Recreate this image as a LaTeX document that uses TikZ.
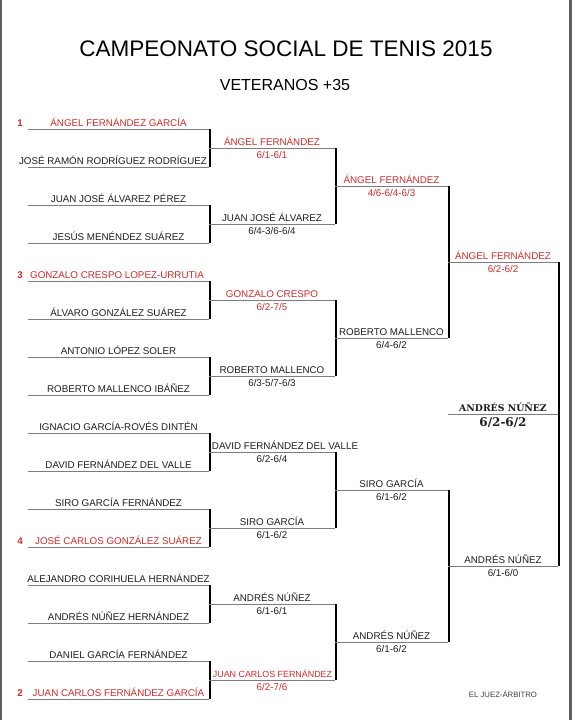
\documentclass[tikz,border=0pt]{standalone}
\usepackage{fontspec}
\setmainfont{Liberation Sans}
\newfontfamily\champfont{DejaVu Serif}
\definecolor{seedred}{RGB}{214,42,42}
\definecolor{linegray}{RGB}{125,125,125}
\definecolor{framegray}{RGB}{95,95,95}
\definecolor{ink}{RGB}{30,30,30}
\tikzset{
  player/.style={font=\fontsize{9.8}{11}\selectfont, text=ink, anchor=base, inner sep=0pt},
  seeded/.style={player, text=seedred},
  seednum/.style={seeded, font=\fontsize{9.8}{11}\selectfont\bfseries},
  slot/.style={draw=linegray, line width=0.9pt},
  bar/.style={draw=black, line width=2pt},
}
\begin{document}
\begin{tikzpicture}[x=1pt,y=-1pt]
      \useasboundingbox (0,0) rectangle (572,720);
      \fill[framegray] (0,0) rectangle (1.5,720);
      \fill[framegray] (568.5,0) rectangle (572,720);

      \node[anchor=base, inner sep=0pt, font=\fontsize{22.5}{26}\selectfont] (title) at (286,56.5){CAMPEONATO SOCIAL DE TENIS 2015};
      \node[anchor=base, inner sep=0pt, font=\fontsize{16}{19}\selectfont] (category) at (285,90){VETERANOS +35};

      % first round
      \draw[slot](28, 129) to (209, 129);
      \draw[slot](28, 167) to (209, 167);
        \draw[bar](209.5, 129) to (209.5, 167);
      \draw[slot](28, 205) to (209, 205);
      \draw[slot](28, 243) to (209, 243);
        \draw[bar](209.5, 205) to (209.5, 243);
      \draw[slot](28, 281) to (209, 281);
      \draw[slot](28, 319) to (209, 319);
        \draw[bar](209.5, 281) to (209.5, 319);
      \draw[slot](28, 357) to (209, 357);
      \draw[slot](28, 395) to (209, 395);
        \draw[bar](209.5, 357) to (209.5, 395);
      \draw[slot](28, 433) to (209, 433);
      \draw[slot](28, 471) to (209, 471);
        \draw[bar](209.5, 433) to (209.5, 471);
      \draw[slot](28, 509) to (209, 509);
      \draw[slot](28, 547) to (209, 547);
        \draw[bar](209.5, 509) to (209.5, 547);
      \draw[slot](28, 585) to (209, 585);
      \draw[slot](28, 623) to (209, 623);
        \draw[bar](209.5, 585) to (209.5, 623);
      \draw[slot](28, 661) to (209, 661);
      \draw[slot](28, 699) to (209, 699);
        \draw[bar](209.5, 661) to (209.5, 699);

      % second round
      \draw[slot](209, 148) to (335, 148);
      \draw[slot](209, 224) to (335, 224);
        \draw[bar](335.5, 148) to (335.5, 224);
      \draw[slot](209, 300) to (335, 300);
      \draw[slot](209, 376) to (335, 376);
        \draw[bar](335.5, 300) to (335.5, 376);
      \draw[slot](209, 452) to (335, 452);
      \draw[slot](209, 528) to (335, 528);
        \draw[bar](335.5, 452) to (335.5, 528);
      \draw[slot](209, 604) to (335, 604);
      \draw[slot](209, 680) to (335, 680);
        \draw[bar](335.5, 604) to (335.5, 680);

      % quarter finals
      \draw[slot](335, 186) to (448, 186);
      \draw[slot](335, 338) to (448, 338);
        \draw[bar](448.5, 186) to (448.5, 338);
      \draw[slot](335, 490) to (448, 490);
      \draw[slot](335, 642) to (448, 642);
        \draw[bar](448.5, 490) to (448.5, 642);

      % semi finals and final
      \draw[slot](448, 262) to (558, 262);
      \draw[slot](448, 566) to (558, 566);
        \draw[bar](558.5, 262) to (558.5, 566);
      \draw[slot](448, 414) to (558, 414);

      % players
      \node[seednum] (seed1) at (20, 126){1};
      \node[seeded] (p1) at (118.5, 126){ÁNGEL FERNÁNDEZ GARCÍA};
      \node[player] (p2) at (113, 164){JOSÉ RAMÓN RODRÍGUEZ RODRÍGUEZ};
      \node[player] (p3) at (118.5, 202){JUAN JOSÉ ÁLVAREZ PÉREZ};
      \node[player] (p4) at (118.5, 240){JESÚS MENÉNDEZ SUÁREZ};
      \node[seednum] (seed3) at (20, 278){3};
      \node[seeded] (p5) at (117, 278){GONZALO CRESPO LOPEZ-URRUTIA};
      \node[player] (p6) at (118.5, 316){ÁLVARO GONZÁLEZ SUÁREZ};
      \node[player] (p7) at (118.5, 354){ANTONIO LÓPEZ SOLER};
      \node[player] (p8) at (118.5, 392){ROBERTO MALLENCO IBÁÑEZ};
      \node[player] (p9) at (118.5, 430){IGNACIO GARCÍA-ROVÉS DINTÉN};
      \node[player] (p10) at (118.5, 468){DAVID FERNÁNDEZ DEL VALLE};
      \node[player] (p11) at (118.5, 506){SIRO GARCÍA FERNÁNDEZ};
      \node[seednum] (seed4) at (20, 544){4};
      \node[seeded] (p12) at (118.5, 544){JOSÉ CARLOS GONZÁLEZ SUÁREZ};
      \node[player] (p13) at (118.5, 582){ALEJANDRO CORIHUELA HERNÁNDEZ};
      \node[player] (p14) at (118.5, 620){ANDRÉS NÚÑEZ HERNÁNDEZ};
      \node[player] (p15) at (118.5, 658){DANIEL GARCÍA FERNÁNDEZ};
      \node[seednum] (seed2) at (20, 696){2};
      \node[seeded] (p16) at (118.5, 696){JUAN CARLOS FERNÁNDEZ GARCÍA};

      % second round winners
      \node[seeded] (w1) at (272, 145){ÁNGEL FERNÁNDEZ};
      \node[seeded] (r1) at (272, 158.5){6/1-6/1};
      \node[player] (w2) at (272, 221){JUAN JOSÉ ÁLVAREZ};
      \node[player] (r2) at (272, 234.5){6/4-3/6-6/4};
      \node[seeded] (w3) at (272, 297){GONZALO CRESPO};
      \node[seeded] (r3) at (272, 310.5){6/2-7/5};
      \node[player] (w4) at (272, 373){ROBERTO MALLENCO};
      \node[player] (r4) at (272, 386.5){6/3-5/7-6/3};
      \node[player] (w5) at (285, 449){DAVID FERNÁNDEZ DEL VALLE};
      \node[player] (r5) at (272, 462.5){6/2-6/4};
      \node[player] (w6) at (272, 525){SIRO GARCÍA};
      \node[player] (r6) at (272, 538.5){6/1-6/2};
      \node[player] (w7) at (272, 601){ANDRÉS NÚÑEZ};
      \node[player] (r7) at (272, 614.5){6/1-6/1};
      \node[seeded, font=\fontsize{8.9}{10}\selectfont] (w8) at (272.5, 677){JUAN CARLOS FERNÁNDEZ};
      \node[seeded] (r8) at (272, 690.5){6/2-7/6};

      % quarter final winners
      \node[seeded] (qw1) at (391.5, 183){ÁNGEL FERNÁNDEZ};
      \node[seeded] (qr1) at (391.5, 196.5){4/6-6/4-6/3};
      \node[player] (qw2) at (391.5, 335){ROBERTO MALLENCO};
      \node[player] (qr2) at (391.5, 348.5){6/4-6/2};
      \node[player] (qw3) at (391.5, 487){SIRO GARCÍA};
      \node[player] (qr3) at (391.5, 500.5){6/1-6/2};
      \node[player] (qw4) at (391.5, 639){ANDRÉS NÚÑEZ};
      \node[player] (qr4) at (391.5, 652.5){6/1-6/2};

      % semi final winners
      \node[seeded] (sw1) at (503, 259){ÁNGEL FERNÁNDEZ};
      \node[seeded] (sr1) at (503, 272.5){6/2-6/2};
      \node[player] (sw2) at (503, 563){ANDRÉS NÚÑEZ};
      \node[player] (sr2) at (503, 576.5){6/1-6/0};

      % champion
      \node[player, font=\champfont\fontsize{9.3}{11}\selectfont\bfseries] (champ) at (503, 411.5){ANDRÉS NÚÑEZ};
      \node[player, font=\champfont\fontsize{12}{14}\selectfont\bfseries] (champres) at (503, 426.5){6/2-6/2};

      \node[player, font=\fontsize{7.75}{9}\selectfont, text=black!75] (judge) at (503, 697){EL JUEZ-ÁRBITRO};
    \end{tikzpicture}
\end{document}
